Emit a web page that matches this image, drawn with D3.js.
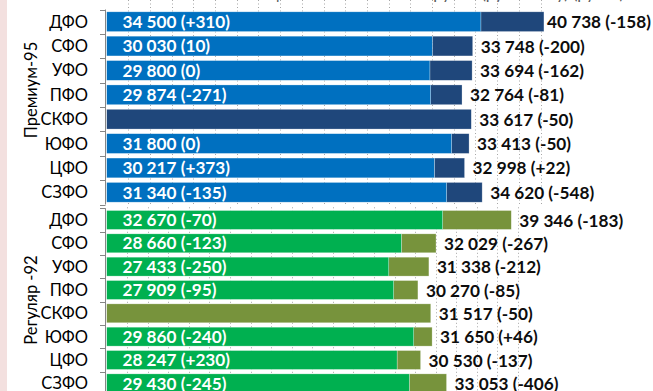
<!DOCTYPE html>
<html>
<head>
<meta charset="utf-8">
<script src="https://cdn.jsdelivr.net/npm/d3@7"></script>
<style>
  html, body { margin: 0; padding: 0; background: #ffffff; }
  svg { display: block; font-family: Lato, "Open Sans", sans-serif; }
</style>
</head>
<body>
<svg id="chart" width="653" height="391"></svg>
<script>
// Federal districts (rows, top to bottom)
const categories = ["ДФО", "СФО", "УФО", "ПФО", "СКФО", "ЮФО", "ЦФО", "СЗФО"];

// Премиум-95: base price, its change, full price and its change
const premBase = [34500, 30030, 29800, 29874, null, 31800, 30217, 31340];
const premBaseDelta = ["+310", "10", "0", "-271", null, "0", "+373", "-135"];
const premTotal = [40738, 33748, 33694, 32764, 33617, 33413, 32998, 34620];
const premTotalDelta = ["-158", "-200", "-162", "-81", "-50", "-50", "+22", "-548"];

// Регуляр-92: same layout
const regBase = [32670, 28660, 27433, 27909, null, 29860, 28247, 29430];
const regBaseDelta = ["-70", "-123", "-250", "-95", null, "-240", "+230", "-245"];
const regTotal = [39346, 32029, 31338, 30270, 31517, 31650, 30530, 33053];
const regTotalDelta = ["-183", "-267", "-212", "-85", "-50", "+46", "-137", "-406"];

const groupNames = ["Премиум-95", "Регуляр -92"];
const gridStep = 2000;
const gridMax = 40000;

const W = 653, H = 391;
const svg = d3.select("#chart");

const ru = d3.formatLocale({ decimal: ",", thousands: "\u00a0", grouping: [3], currency: ["", " ₽"] });
const fmt = ru.format(",d");

// pink page margin at the far left
svg.append("rect").attr("x", 0).attr("y", 0).attr("width", 7).attr("height", H).attr("fill", "#f3e0df");

// chart title (sits mostly above the visible area)
svg.append("text")
  .attr("x", 410).attr("y", -1)
  .attr("text-anchor", "middle")
  .attr("font-size", 16.5)
  .attr("fill", "#595959")
  .text("Оптовые цены на бензин по округам (руб/тонну) (руб/т)");

const panels = [
  {
    name: groupNames[0], base: premBase, baseDelta: premBaseDelta, total: premTotal, totalDelta: premTotalDelta,
    y0: 9.5, y1: 204.5, xr: [106.5, 543.8], labelY: 90,
    cBase: "#0070c0", cTop: "#1f477b"
  },
  {
    name: groupNames[1], base: regBase, baseDelta: regBaseDelta, total: regTotal, totalDelta: regTotalDelta,
    y0: 208.3, y1: 395, xr: [106.5, 521.1], labelY: 300,
    cBase: "#00b050", cTop: "#77933c"
  }
];

panels.forEach((p, pi) => {
  const g = svg.append("g");
  const x = d3.scaleLinear().domain([0, 40300]).range(p.xr);
  const y = d3.scaleBand().domain(categories).range([p.y0, p.y1]).paddingInner(0.19).paddingOuter(0.095);

  const clipId = "clip" + pi;
  svg.append("clipPath").attr("id", clipId)
    .append("rect").attr("x", p.xr[0]).attr("y", p.y0 - 12).attr("width", p.xr[1] - p.xr[0]).attr("height", p.y1 - p.y0 + 14);

  // dotted vertical gridlines
  const ticks = d3.range(gridStep, gridMax + 1, gridStep);
  g.append("g").selectAll("line").data(ticks).join("line")
    .attr("x1", d => Math.round(x(d)) + 0.5).attr("x2", d => Math.round(x(d)) + 0.5)
    .attr("y1", pi === 0 ? 0 : p.y0 - 1).attr("y2", p.y1)
    .attr("stroke", "#a6a6a6").attr("stroke-width", 1)
    .attr("stroke-dasharray", "1,2.5");

  const rows = categories.map((c, i) => ({
    cat: c, base: p.base[i], baseDelta: p.baseDelta[i], total: p.total[i], totalDelta: p.totalDelta[i]
  }));

  const bars = g.append("g").attr("clip-path", `url(#${clipId})`);
  // upper segment: from base price (or zero) to full price
  bars.selectAll("rect.top").data(rows).join("rect").attr("class", "top")
    .attr("x", d => x(d.base == null ? 0 : d.base))
    .attr("y", d => y(d.cat))
    .attr("width", d => x(d.total) - x(d.base == null ? 0 : d.base))
    .attr("height", y.bandwidth())
    .attr("fill", p.cTop)
    .attr("stroke", "rgba(255,255,255,0.45)").attr("stroke-width", 0.6);
  // base segment
  bars.selectAll("rect.base").data(rows.filter(d => d.base != null)).join("rect").attr("class", "base")
    .attr("x", x(0))
    .attr("y", d => y(d.cat))
    .attr("width", d => x(d.base) - x(0))
    .attr("height", y.bandwidth())
    .attr("fill", p.cBase)
    .attr("stroke", "rgba(255,255,255,0.45)").attr("stroke-width", 0.6);

  // labels inside base segment
  g.append("g").selectAll("text").data(rows.filter(d => d.base != null)).join("text")
    .attr("x", x(0) + 16)
    .attr("y", d => y(d.cat) + y.bandwidth() / 2)
    .attr("dy", "0.36em")
    .attr("font-size", 17.2).attr("font-weight", "bold").attr("fill", "#ffffff")
    .text(d => `${fmt(d.base)} (${d.baseDelta})`);

  // labels after full bar, kept inside the page width
  g.append("g").selectAll("text").data(rows).join("text")
    .attr("y", d => y(d.cat) + y.bandwidth() / 2)
    .attr("dy", "0.38em")
    .attr("font-size", 17.2).attr("font-weight", "bold").attr("fill", "#0d0d0d")
    .text(d => `${fmt(d.total)} (${d.totalDelta})`)
    .attr("x", function (d) {
      const want = Math.min(x(d.total), p.xr[1]) + 8;
      const len = this.getComputedTextLength();
      return Math.min(want, W - 2 - len);
    });

  // category axis with boundary ticks
  const ax = 105.5;
  const bounds = [p.y0].concat(categories.slice(1).map(c => y(c) - y.step() * y.paddingInner() / 2)).concat([p.y1]);
  g.append("line").attr("x1", ax).attr("x2", ax).attr("y1", p.y0).attr("y2", p.y1)
    .attr("stroke", "#868686").attr("stroke-width", 1);
  g.append("g").selectAll("line").data(bounds).join("line")
    .attr("x1", 100).attr("x2", ax)
    .attr("y1", d => Math.round(d) + 0.5).attr("y2", d => Math.round(d) + 0.5)
    .attr("stroke", "#868686").attr("stroke-width", 1);

  // category names
  g.append("g").selectAll("text").data(categories).join("text")
    .attr("x", 88)
    .attr("y", d => y(d) + y.bandwidth() / 2)
    .attr("dy", "0.36em")
    .attr("text-anchor", "end")
    .attr("font-size", 16.5).attr("fill", "#000000")
    .text(d => d);

  // group name, rotated
  g.append("text")
    .attr("transform", `translate(31,${p.labelY}) rotate(-90)`)
    .attr("dy", "0.36em")
    .attr("text-anchor", "middle")
    .attr("font-size", 16.5).attr("fill", "#000000")
    .text(p.name);
});
</script>
</body>
</html>
